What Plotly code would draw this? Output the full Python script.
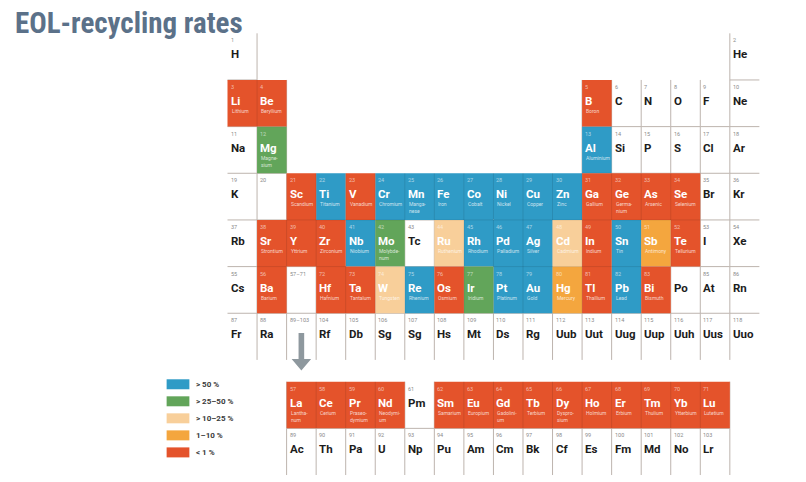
import plotly.graph_objects as go

# ---------------- data ----------------
symbols = [
    "H", "He",
    "Li", "Be", "B", "C", "N", "O", "F", "Ne",
    "Na", "Mg", "Al", "Si", "P", "S", "Cl", "Ar",
    "K", "", "Sc", "Ti", "V", "Cr", "Mn", "Fe", "Co", "Ni", "Cu", "Zn", "Ga", "Ge", "As", "Se", "Br", "Kr",
    "Rb", "Sr", "Y", "Zr", "Nb", "Mo", "Tc", "Ru", "Rh", "Pd", "Ag", "Cd", "In", "Sn", "Sb", "Te", "I", "Xe",
    "Cs", "Ba", "", "Hf", "Ta", "W", "Re", "Os", "Ir", "Pt", "Au", "Hg", "Tl", "Pb", "Bi", "Po", "At", "Rn",
    "Fr", "Ra", "", "Rf", "Db", "Sg", "Sg", "Hs", "Mt", "Ds", "Rg", "Uub", "Uut", "Uug", "Uup", "Uuh", "Uus", "Uuo",
    "La", "Ce", "Pr", "Nd", "Pm", "Sm", "Eu", "Gd", "Tb", "Dy", "Ho", "Er", "Tm", "Yb", "Lu",
    "Ac", "Th", "Pa", "U", "Np", "Pu", "Am", "Cm", "Bk", "Cf", "Es", "Fm", "Md", "No", "Lr",
]
numbers = [
    "1", "2",
    "3", "4", "5", "6", "7", "8", "9", "10",
    "11", "12", "13", "14", "15", "16", "17", "18",
    "19", "20", "21", "22", "23", "24", "25", "26", "27", "28", "29", "30", "31", "32", "33", "34", "35", "36",
    "37", "38", "39", "40", "41", "42", "43", "44", "45", "46", "47", "48", "49", "50", "51", "52", "53", "54",
    "55", "56", "57–71", "72", "73", "74", "75", "76", "77", "78", "79", "80", "81", "82", "83", "", "85", "86",
    "87", "88", "89–103", "104", "105", "106", "107", "108", "109", "110", "111", "112", "113", "114", "115", "116", "117", "118",
    "57", "58", "59", "60", "61", "62", "63", "64", "65", "66", "67", "68", "69", "70", "71",
    "89", "90", "91", "92", "93", "94", "95", "96", "97", "98", "99", "100", "101", "102", "103",
]
periods = (
    [1, 1]
    + [2] * 8 + [3] * 8
    + [4] * 18 + [5] * 18 + [6] * 18 + [7] * 18
    + [8] * 15 + [9] * 15          # 8 = lanthanide row, 9 = actinide row
)
groups = (
    [1, 18]
    + [1, 2, 13, 14, 15, 16, 17, 18] * 2
    + list(range(1, 19)) * 4
    + list(range(3, 18)) * 2
)
# rate classes: A >50 %, B >25-50 %, C >10-25 %, D 1-10 %, E <1 %, "" no data
rates = (
    ["", ""]
    + ["E", "E", "E", "", "", "", "", ""]
    + ["", "B", "A", "", "", "", "", ""]
    + ["", "", "E", "A", "E", "A", "A", "A", "A", "A", "A", "A", "E", "E", "E", "E", "", ""]
    + ["", "E", "E", "E", "A", "B", "", "C", "A", "A", "A", "C", "E", "A", "D", "E", "", ""]
    + ["", "E", "", "E", "E", "C", "A", "E", "B", "A", "A", "D", "E", "A", "E", "", "", ""]
    + [""] * 18
    + ["E", "E", "E", "E", "", "E", "E", "E", "E", "E", "E", "E", "E", "E", "E"]
    + [""] * 15
)
names = (
    ["", ""]
    + ["Lithium", "Beryllium", "Boron", "", "", "", "", ""]
    + ["", "Magne-<br>sium", "Aluminium", "", "", "", "", ""]
    + ["", "", "Scandium", "Titanium", "Vanadium", "Chromium", "Manga-<br>nese", "Iron", "Cobalt",
       "Nickel", "Copper", "Zinc", "Gallium", "Germa-<br>nium", "Arsenic", "Selenium", "", ""]
    + ["", "Strontium", "Yttrium", "Zirconium", "Niobium", "Molybde-<br>num", "", "Ruthenium", "Rhodium",
       "Palladium", "Silver", "Cadmium", "Indium", "Tin", "Antimony", "Tellurium", "", ""]
    + ["", "Barium", "", "Hafnium", "Tantalum", "Tungsten", "Rhenium", "Osmium", "Iridium", "Platinum",
       "Gold", "Mercury", "Thallium", "Lead", "Bismuth", "", "", ""]
    + [""] * 18
    + ["Lantha-<br>num", "Cerium", "Praseo-<br>dymium", "Neodymi-<br>um", "", "Samarium", "Europium",
       "Gadolini-<br>um", "Terbium", "Dyspro-<br>sium", "Holmium", "Erbium", "Thulium", "Ytterbium", "Lutetium"]
    + [""] * 15
)

legend_classes = ["A", "B", "C", "D", "E"]
legend_labels = ["> 50 %", "> 25–50 %", "> 10–25 %", "1–10 %", "< 1 %"]
title_text = "EOL-recycling rates"

# ---------------- styles ----------------
class_colors = {"A": "#2f9bc6", "B": "#62a55a", "C": "#f8cf9a", "D": "#f4a63e", "E": "#e4532b"}
grid_color = "#bdb4ae"
FONT = "Roboto, 'Noto Sans', sans-serif"
X_RANGE = [-6.928, 20.348]
Y_RANGE = [10.288, -0.0422]
F_ROW_SHIFT = 0.467   # extra gap before lanthanide/actinide rows


def row_y(p):
    return p if p <= 7 else p + F_ROW_SHIFT


occupied = {}
for i, (p, g) in enumerate(zip(periods, groups)):
    occupied[(p, g)] = i

fig = go.Figure()

# grid lines between cells
gx, gy = [], []
sx, sy = [], []
for p in range(1, 10):
    for g in range(1, 18):
        a, b = occupied.get((p, g)), occupied.get((p, g + 1))
        if a is None and b is None:
            continue
        yc = row_y(p)
        if a is not None and b is not None and rates[a] and rates[b]:
            sx += [g + 0.5, g + 0.5, None]; sy += [yc - 0.5, yc + 0.5, None]
        else:
            gx += [g + 0.5, g + 0.5, None]; gy += [yc - 0.5, yc + 0.5, None]
for p in [1, 2, 3, 4, 5, 6, 8]:
    for g in range(1, 19):
        a, b = occupied.get((p, g)), occupied.get((p + 1, g))
        if a is None or b is None:
            continue
        yb = row_y(p) + 0.5
        if rates[a] and rates[b]:
            sx += [g - 0.5, g + 0.5, None]; sy += [yb, yb, None]
        else:
            gx += [g - 0.5, g + 0.5, None]; gy += [yb, yb, None]

fig.add_trace(go.Scatter(x=gx, y=gy, mode="lines", line=dict(color=grid_color, width=1),
                         hoverinfo="skip"))

# coloured cells
for cls in legend_classes:
    px_, py_ = [], []
    for i, r in enumerate(rates):
        if r != cls:
            continue
        xc, yc = groups[i], row_y(periods[i])
        px_ += [xc - 0.5, xc + 0.5, xc + 0.5, xc - 0.5, xc - 0.5, None]
        py_ += [yc - 0.5, yc - 0.5, yc + 0.5, yc + 0.5, yc - 0.5, None]
    fig.add_trace(go.Scatter(x=px_, y=py_, mode="lines", fill="toself",
                             fillcolor=class_colors[cls], line=dict(width=0),
                             hoverinfo="skip"))

fig.add_trace(go.Scatter(x=sx, y=sy, mode="lines", line=dict(color="rgba(0,0,0,0.10)", width=1),
                         hoverinfo="skip"))

# cell texts
ann = []
for i, sym in enumerate(symbols):
    xl = groups[i] - 0.5
    yt = row_y(periods[i]) - 0.5
    coloured = bool(rates[i])
    if numbers[i]:
        ann.append(dict(x=xl, y=yt, xref="x", yref="y", text=numbers[i], showarrow=False,
                        xanchor="left", yanchor="middle", xshift=2, yshift=-7, borderpad=0,
                        font=dict(family=FONT, size=5.5,
                                  color="rgba(255,255,255,0.6)" if coloured else "#8a8a8a")))
    if sym:
        ann.append(dict(x=xl, y=yt, xref="x", yref="y", text=sym, showarrow=False,
                        xanchor="left", yanchor="middle", xshift=2, yshift=-21, borderpad=0,
                        font=dict(family=FONT, size=11.5, weight="bold",
                                  color="#ffffff" if coloured else "#1c1c1c")))
    if names[i]:
        ann.append(dict(x=xl, y=yt, xref="x", yref="y", text=names[i], showarrow=False,
                        xanchor="left", yanchor="top", xshift=2, yshift=-26,
                        align="left",
                        font=dict(family=FONT, size=5, color="rgba(255,255,255,0.75)")))

# legend
lx0, lx1 = -1.56, -0.79
ly0, lstep, lh = 8.022, 0.365, 0.107
for k, (cls, lab) in enumerate(zip(legend_classes, legend_labels)):
    yc = ly0 + k * lstep
    fig.add_trace(go.Scatter(x=[lx0, lx1, lx1, lx0, lx0], y=[yc - lh, yc - lh, yc + lh, yc + lh, yc - lh],
                             mode="lines", fill="toself", fillcolor=class_colors[cls],
                             line=dict(width=0), hoverinfo="skip"))
    ann.append(dict(x=-0.62, y=yc, xref="x", yref="y", text=lab, showarrow=False,
                    xanchor="left", yanchor="middle",
                    font=dict(family=FONT, size=8, weight="bold", color="#3a3a3a")))

# arrow pointing to f-block
ax_c, a_top, a_neck, a_tip = 3.0, 6.923, 7.48, 7.727
sw, hw = 0.095, 0.33
fig.add_trace(go.Scatter(
    x=[ax_c - sw, ax_c + sw, ax_c + sw, ax_c + hw, ax_c, ax_c - hw, ax_c - sw, ax_c - sw],
    y=[a_top, a_top, a_neck, a_neck, a_tip, a_neck, a_neck, a_top],
    mode="lines", fill="toself", fillcolor="#8e989e", line=dict(width=0), hoverinfo="skip"))

# title
ann.append(dict(x=6 / 806, y=1 - 15 / 482, xref="paper", yref="paper",
                text='<span style="font-stretch:condensed">' + title_text + "</span>",
                showarrow=False, xanchor="left", yanchor="middle", borderpad=0,
                font=dict(family="Roboto, sans-serif", size=29,
                          weight="bold", color="#5b7189")))

fig.update_layout(
    width=806, height=482,
    margin=dict(l=0, r=0, t=0, b=0),
    paper_bgcolor="white", plot_bgcolor="white",
    showlegend=False,
    xaxis=dict(range=X_RANGE, visible=False, fixedrange=True),
    yaxis=dict(range=Y_RANGE, visible=False, fixedrange=True),
    annotations=ann,
)

fig.write_html("out.html")
